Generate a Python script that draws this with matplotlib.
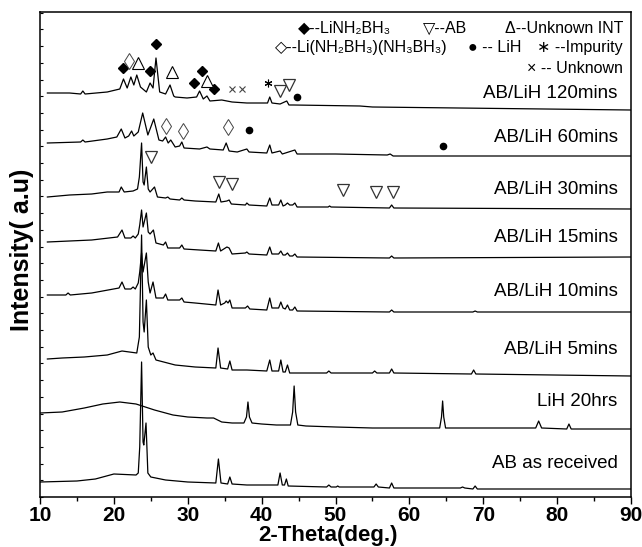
import matplotlib
matplotlib.use("Agg")
import matplotlib.pyplot as plt
from matplotlib.ticker import MultipleLocator

plt.rcParams['font.family'] = ['Liberation Sans', 'DejaVu Sans']

# XRD patterns: (2-theta deg, stacked intensity a.u.)
ab_received = [(10.0, 15), (15.0, 16), (17.5, 18), (20.0, 23), (23.0, 22), (23.3, 24), (23.5, 50),
               (23.75, 135), (23.95, 55), (24.05, 52), (24.35, 74), (24.6, 24), (25.0, 20), (27.0, 17),
               (30.0, 15), (33.8, 14), (34.15, 38), (34.5, 14), (35.4, 13), (35.7, 20), (36.0, 13),
               (38.0, 12), (42.2, 12), (42.5, 24), (42.8, 12), (43.1, 12), (43.35, 18), (43.6, 11),
               (48.8, 10), (49.1, 12), (49.4, 10), (50.1, 10), (50.3, 11), (50.5, 10), (55.2, 10),
               (55.5, 13), (55.8, 10), (57.3, 9), (57.6, 14), (57.9, 9), (66.9, 9), (67.2, 10),
               (67.5, 9), (68.6, 8), (68.9, 11), (69.2, 8), (90.0, 8)]
lih_20hrs = [(10.0, 84), (13.0, 85), (16.0, 89), (18.5, 93), (20.8, 95), (23.0, 93), (25.5, 87),
             (28.0, 82), (30.0, 80), (32.6, 79), (33.5, 79), (34.6, 75), (36.0, 74), (37.6, 74),
             (37.95, 80), (38.15, 95), (38.35, 80), (38.7, 74), (40.0, 73), (42.0, 72), (43.9, 72),
             (44.2, 85), (44.4, 111), (44.6, 85), (44.9, 72), (46.0, 71), (50.0, 70), (55.0, 69),
             (64.1, 69), (64.35, 80), (64.5, 96), (64.65, 80), (64.9, 69), (70.0, 69), (77.1, 69),
             (77.5, 76), (77.9, 69), (81.3, 68), (81.6, 73), (81.9, 68), (90.0, 68)]
ablih_5 = [(11.0, 138), (13.0, 139), (16.0, 140), (19.1, 142), (21.1, 146), (23.1, 144), (23.45, 160),
           (23.75, 262), (23.95, 175), (24.1, 165), (24.4, 197), (24.65, 150), (25.0, 142), (25.3, 144),
           (25.7, 137), (28.3, 132), (31.0, 130), (33.8, 129), (34.1, 149), (34.45, 129), (35.4, 128),
           (35.7, 136), (36.0, 127), (38.0, 127), (40.7, 126), (41.1, 137), (41.4, 126), (42.3, 126),
           (42.6, 137), (42.9, 125), (43.2, 125), (43.5, 132), (43.8, 124), (48.8, 124), (49.1, 126),
           (49.4, 124), (55.0, 124), (55.3, 126), (55.6, 124), (57.3, 124), (57.6, 128), (57.9, 124),
           (68.4, 123), (68.7, 127), (69.0, 123), (90.0, 121)]
ablih_10 = [(11.0, 202), (13.5, 202), (13.8, 204), (14.1, 202), (17.0, 204), (20.7, 209), (21.1, 215),
            (21.5, 208), (22.3, 208), (22.6, 210), (22.9, 208), (23.3, 214), (23.5, 225), (23.75, 244),
            (23.95, 225), (24.4, 244), (24.65, 215), (24.9, 204), (25.3, 215), (25.7, 199), (26.7, 199),
            (27.0, 203), (27.3, 197), (28.9, 197), (29.2, 199), (29.5, 195), (31.0, 194), (33.8, 192),
            (34.1, 207), (34.45, 192), (35.0, 194), (35.2, 196), (35.45, 194), (35.7, 197), (36.0, 189),
            (37.8, 189), (38.1, 191), (38.4, 188), (40.7, 187), (41.1, 199), (41.4, 189), (42.3, 189),
            (42.6, 195), (42.9, 189), (43.2, 188), (43.5, 192), (43.8, 187), (44.2, 187), (44.5, 190),
            (44.8, 186), (57.3, 185), (57.6, 187), (57.9, 185), (68.6, 185), (68.9, 186), (69.2, 185),
            (90.0, 185)]
ablih_15 = [(11.0, 255), (14.0, 256), (17.0, 257), (20.5, 260), (21.1, 267), (21.5, 259), (22.3, 259),
            (22.6, 261), (22.9, 259), (23.3, 263), (23.5, 272), (23.75, 287), (23.95, 270), (24.4, 284),
            (24.65, 265), (24.9, 263), (25.35, 267), (25.7, 254), (26.7, 252), (27.0, 255), (27.3, 249),
            (28.9, 249), (29.2, 252), (29.5, 248), (31.6, 247), (33.8, 246), (34.15, 254), (34.45, 246),
            (35.3, 250), (35.6, 249), (36.0, 243), (37.8, 244), (38.0, 245), (38.3, 243), (40.7, 242),
            (41.1, 250), (41.4, 243), (42.3, 243), (42.6, 246), (42.9, 242), (43.2, 242), (43.5, 244),
            (43.8, 241), (44.2, 241), (44.5, 243), (44.8, 240), (57.3, 239), (57.6, 241), (57.9, 239),
            (90.0, 240)]
ablih_30 = [(11.0, 300), (14.0, 302), (17.0, 303), (19.1, 305), (20.7, 305), (21.0, 310), (21.4, 305),
            (22.6, 306), (23.2, 308), (23.45, 320), (23.75, 354), (23.95, 315), (24.1, 312), (24.4, 330),
            (24.65, 308), (24.9, 305), (25.5, 310), (25.9, 300), (27.0, 299), (27.3, 300), (27.6, 298),
            (28.9, 297), (29.2, 299), (29.5, 297), (31.0, 296), (33.8, 295), (34.2, 303), (34.5, 295),
            (35.3, 296), (35.6, 297), (35.9, 293), (37.8, 292), (38.0, 294), (38.3, 292), (40.7, 291),
            (41.1, 299), (41.4, 292), (42.3, 292), (42.6, 297), (42.9, 291), (43.2, 292), (43.5, 294),
            (43.8, 292), (44.2, 292), (44.5, 294), (44.8, 290), (49.0, 290), (49.2, 291), (49.4, 290),
            (57.3, 289), (57.6, 292), (57.9, 289), (90.0, 288)]
ablih_60 = [(11.0, 354), (15.5, 355), (15.8, 357), (16.1, 355), (19.1, 358), (20.4, 360), (21.0, 368),
            (21.5, 359), (22.0, 361), (22.4, 366), (22.7, 361), (23.3, 365), (23.9, 384), (24.6, 362),
            (25.4, 378), (26.1, 357), (26.6, 356), (27.0, 360), (27.35, 354), (27.7, 357), (28.3, 350),
            (28.9, 351), (29.2, 355), (29.5, 349), (31.6, 348), (32.6, 350), (33.0, 348), (34.8, 347),
            (35.2, 354), (35.6, 346), (36.7, 345), (38.0, 348), (38.3, 345), (40.7, 344), (41.1, 352),
            (41.4, 344), (42.5, 346), (42.8, 343), (44.5, 347), (44.8, 343), (50.0, 343), (57.0, 342),
            (57.4, 343), (57.8, 341), (90.0, 341)]
ablih_120 = [(11.0, 404), (14.0, 404), (15.5, 403), (15.8, 406), (16.1, 403), (19.1, 405), (20.8, 408),
             (21.3, 418), (21.8, 409), (22.3, 420), (22.7, 412), (23.1, 422), (23.6, 410), (24.4, 405),
             (24.9, 414), (25.3, 409), (25.7, 439), (26.2, 405), (27.0, 403), (27.6, 412), (28.1, 401),
             (28.3, 400), (29.9, 399), (31.2, 400), (31.6, 406), (32.1, 398), (32.6, 401), (33.0, 396),
             (34.6, 397), (36.0, 395), (38.0, 394), (40.8, 394), (41.1, 400), (41.4, 394), (42.5, 393),
             (43.4, 396), (43.7, 392), (44.3, 392), (53.3, 391), (55.0, 390), (90.0, 387)]

curves = [ab_received, lih_20hrs, ablih_5, ablih_10, ablih_15, ablih_30, ablih_60, ablih_120]
labels = ["AB as received", "LiH 20hrs", "AB/LiH 5mins", "AB/LiH 10mins",
          "AB/LiH 15mins", "AB/LiH 30mins", "AB/LiH 60mins", "AB/LiH 120mins"]
label_y = [34, 95, 147, 205, 260, 308, 359, 404]

# phase markers above peaks
linh2bh3 = [(21.3, 429), (24.9, 426), (25.7, 453), (30.8, 414), (31.9, 426), (33.5, 408)]
mixed_phase = [(22.1, 436), (27.0, 371), (29.4, 366), (35.4, 370)]
unknown_int = [(23.3, 434), (27.9, 425), (32.6, 416)]
ab_phase = [(42.5, 406), (43.7, 412), (25.0, 340), (34.2, 315), (36.0, 313),
            (51.0, 307), (55.5, 305), (57.8, 305)]
lih_phase = [(44.8, 400), (38.3, 367), (64.5, 351)]
unknown = [(36.0, 408), (37.3, 408)]
impurity = [(40.9, 414)]

fig = plt.figure(figsize=(6.42, 5.47), dpi=100)
ax = fig.add_axes([40 / 642, 50 / 547, 591 / 642, 485 / 547])

for c in curves:
    x, y = zip(*c)
    ax.plot(x, y, color="black", lw=0.9)

for lab, yy in zip(labels, label_y):
    ax.text(88.2, yy, lab, ha="right", va="center", fontsize=13.5)

def mark(pts, **kw):
    x, y = zip(*pts)
    ax.plot(x, y, linestyle="none", color="black", **kw)

mark(linh2bh3, marker="D", ms=5, mfc="black")
mark(mixed_phase, marker="d", ms=8, mfc="white", mew=0.7, mec="#444444")
mark(unknown_int, marker="^", ms=8, mfc="white", mew=0.8)
mark(ab_phase, marker="v", ms=8.5, mfc="white", mew=0.9, mec="#333333")
mark(lih_phase, marker="o", ms=4.5, mfc="black")
mark(unknown, marker="x", ms=4.5, mew=0.8, mec="#444444")
mark(impurity, marker=(6, 2, 0), ms=5.5, mew=0.8)

# legend written as text lines
fs = 11.5
tr = ax.transAxes
ax.text(0.4365, 0.967, "◆--LiNH₂BH₃", transform=tr, ha="left", va="center", fontsize=fs)
ax.text(0.648, 0.967, "▽--AB", transform=tr, ha="left", va="center", fontsize=fs)
ax.text(0.9865, 0.967, "Δ--Unknown INT", transform=tr, ha="right", va="center", fontsize=fs)
ax.text(0.398, 0.926, "◇--Li(NH₂BH₃)(NH₃BH₃)", transform=tr, ha="left", va="center", fontsize=fs)
ax.text(0.725, 0.926, "● -- LiH", transform=tr, ha="left", va="center", fontsize=fs)
ax.text(0.9865, 0.926, "∗ --Impurity", transform=tr, ha="right", va="center", fontsize=fs)
ax.text(0.9865, 0.8835, "× -- Unknown", transform=tr, ha="right", va="center", fontsize=fs)

ax.set_xlim(10, 90)
ax.set_ylim(0, 485)
ax.xaxis.set_major_locator(MultipleLocator(10))
ax.xaxis.set_minor_locator(MultipleLocator(5))
ax.yaxis.set_major_locator(MultipleLocator(16.7))
ax.tick_params(axis="x", which="major", direction="out", length=5, width=1, labelsize=15, pad=1.5)
ax.tick_params(axis="x", which="minor", direction="out", length=3, width=1)
ax.tick_params(axis="y", which="major", direction="in", length=2.5, width=0.8, labelleft=False)
for lbl in ax.get_xticklabels():
    lbl.set_fontweight("bold")
for s in ax.spines.values():
    s.set_linewidth(1.1)

fig.text(328 / 642, 1 - 535 / 547, "2-Theta(deg.)", ha="center", va="center",
         fontsize=16, fontweight="bold")
fig.text(22 / 642, 1 - 250 / 547, "Intensity( a.u)", ha="center", va="center",
         rotation=90, fontsize=18, fontweight="bold")

fig.savefig("out.png", dpi=100)
